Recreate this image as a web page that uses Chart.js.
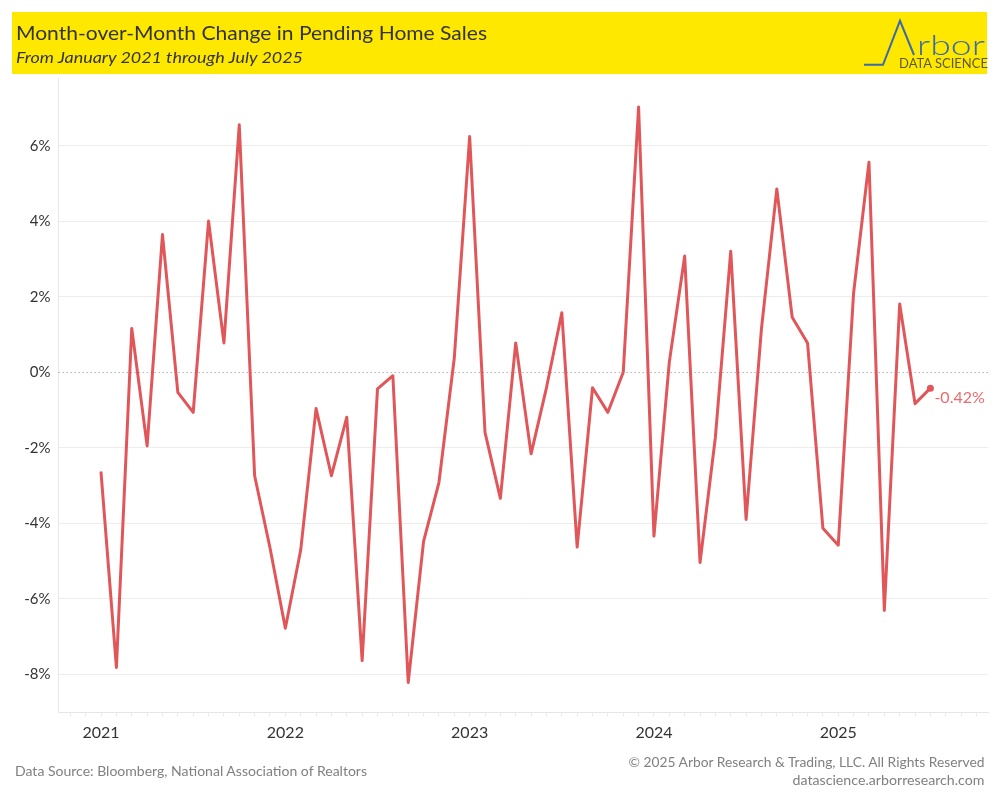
<!DOCTYPE html>
<html>
<head>
<meta charset="utf-8">
<script src="https://cdn.jsdelivr.net/npm/chart.js@4.4.1/dist/chart.umd.min.js"></script>
<style>
  html, body { margin: 0; padding: 0; background: #fff; }
  #wrap { position: relative; width: 1000px; height: 800px; overflow: hidden; }
  #chart { position: absolute; left: 0; top: 0; width: 1000px; height: 800px; }
  #overlay { position: absolute; left: 0; top: 0; pointer-events: none; }
</style>
</head>
<body>
<div id="wrap">
  <canvas id="chart" width="1000" height="800"></canvas>
  <svg id="overlay" width="1000" height="800" xmlns="http://www.w3.org/2000/svg">
    <rect x="12" y="12" width="975" height="62" fill="#FFE800"/>
    <text x="16" y="39.5" font-family="Lato" font-size="19" fill="#333" textLength="471" lengthAdjust="spacingAndGlyphs">Month-over-Month Change in Pending Home Sales</text>
    <text x="16" y="63" font-family="Lato" font-style="italic" font-size="15.5" fill="#333" textLength="287" lengthAdjust="spacingAndGlyphs">From January 2021 through July 2025</text>
    <polyline points="864,64.8 883,64.8 900,20.8 914,55" fill="none" stroke="#3D6AA8" stroke-width="2"/>
    <text x="917" y="55" font-family="Lato" font-weight="300" font-size="27" fill="#3D6AA8" textLength="68" lengthAdjust="spacingAndGlyphs">rbor</text>
    <text x="899" y="68" font-family="Lato" font-size="12.5" fill="#5E5A30" textLength="89" lengthAdjust="spacingAndGlyphs">DATA SCIENCE</text>
    <text x="15" y="775.5" font-family="Lato" font-size="14" fill="#808080" textLength="352" lengthAdjust="spacingAndGlyphs">Data Source: Bloomberg, National Association of Realtors</text>
    <text x="984.5" y="766.5" text-anchor="end" font-family="Lato" font-size="14" fill="#808080" textLength="356" lengthAdjust="spacingAndGlyphs">© 2025 Arbor Research &amp; Trading, LLC. All Rights Reserved</text>
    <text x="984.5" y="784.5" text-anchor="end" font-family="Lato" font-size="14" fill="#808080" textLength="192" lengthAdjust="spacingAndGlyphs">datascience.arborresearch.com</text>
  </svg>
</div>
<script>
// ---- Data ----
const yearLabels = ['2021', '2022', '2023', '2024', '2025'];
const months = [
  '2021-01','2021-02','2021-03','2021-04','2021-05','2021-06','2021-07','2021-08','2021-09','2021-10','2021-11','2021-12',
  '2022-01','2022-02','2022-03','2022-04','2022-05','2022-06','2022-07','2022-08','2022-09','2022-10','2022-11','2022-12',
  '2023-01','2023-02','2023-03','2023-04','2023-05','2023-06','2023-07','2023-08','2023-09','2023-10','2023-11','2023-12',
  '2024-01','2024-02','2024-03','2024-04','2024-05','2024-06','2024-07','2024-08','2024-09','2024-10','2024-11','2024-12',
  '2025-01','2025-02','2025-03','2025-04','2025-05','2025-06','2025-07'
];
const momChange = [
  -2.66, -7.82, 1.16, -1.95, 3.65, -0.53, -1.06, 4.01, 0.78, 6.56, -2.74, -4.65,
  -6.78, -4.71, -0.96, -2.74, -1.19, -7.64, -0.44, -0.09, -8.22, -4.48, -2.92, 0.38,
  6.25, -1.59, -3.34, 0.78, -2.16, -0.41, 1.58, -4.63, -0.41, -1.06, 0.00, 7.03,
  -4.34, 0.27, 3.08, -5.04, -1.72, 3.21, -3.90, 1.16, 4.86, 1.46, 0.78, -4.13,
  -4.58, 2.11, 5.57, -6.31, 1.81, -0.83, -0.42
];
const yTickValues = [-8, -6, -4, -2, 0, 2, 4, 6];

// ---- Chart ----
const lineColor = '#E15759';
const points = months.map((m, i) => ({ x: i, y: momChange[i] }));
const lastIdx = momChange.length - 1;

const zeroLine = {
  id: 'zeroLine',
  beforeDatasetsDraw(chart) {
    const { ctx, chartArea, scales } = chart;
    const y = Math.round(scales.y.getPixelForValue(0)) + 0.5;
    ctx.save();
    ctx.strokeStyle = '#B5B5B5';
    ctx.lineWidth = 1;
    ctx.setLineDash([1.5, 2.5]);
    ctx.beginPath();
    ctx.moveTo(chartArea.left, y);
    ctx.lineTo(chartArea.right, y);
    ctx.stroke();
    ctx.restore();
  }
};

const lastLabel = {
  id: 'lastLabel',
  afterDatasetsDraw(chart) {
    const meta = chart.getDatasetMeta(0);
    const pt = meta.data[lastIdx];
    const { ctx } = chart;
    ctx.save();
    ctx.font = '16px Lato';
    ctx.fillStyle = '#EC6A6E';
    ctx.textBaseline = 'middle';
    ctx.textAlign = 'left';
    ctx.fillText(momChange[lastIdx].toFixed(2) + '%', pt.x + 4, pt.y + 10);
    ctx.restore();
  }
};

Chart.defaults.font.family = 'Lato';

new Chart(document.getElementById('chart'), {
  type: 'line',
  data: {
    datasets: [{
      data: points,
      borderColor: lineColor,
      backgroundColor: lineColor,
      borderWidth: 3,
      tension: 0,
      pointRadius: (ctx) => ctx.dataIndex === lastIdx ? 3.5 : 0,
      pointHoverRadius: 0,
      pointBorderWidth: 0,
      borderJoinStyle: 'round',
      borderCapStyle: 'round',
      fill: false
    }]
  },
  options: {
    responsive: false,
    animation: false,
    devicePixelRatio: 1,
    layout: { padding: { left: 0, top: 78, right: 12, bottom: 47.3 } },
    plugins: { legend: { display: false }, tooltip: { enabled: false } },
    scales: {
      x: {
        type: 'linear',
        min: -2.77,
        max: 57.75,
        afterBuildTicks: (scale) => {
          const t = [];
          for (let v = -2; v <= 57; v++) t.push({ value: v });
          scale.ticks = t;
        },
        afterFit: (scale) => { scale.height = 40; },
        ticks: {
          autoSkip: false,
          maxRotation: 0,
          font: { size: 16 },
          color: '#333',
          padding: 7,
          callback: (v) => (v >= 0 && v % 12 === 0) ? yearLabels[v / 12] : ''
        },
        grid: {
          drawOnChartArea: false,
          drawTicks: true,
          tickLength: 4,
          tickColor: '#EBEBEB'
        },
        border: { color: '#E6E6E6' }
      },
      y: {
        min: -9.02,
        max: 7.80,
        afterBuildTicks: (scale) => { scale.ticks = yTickValues.map(v => ({ value: v })); },
        afterFit: (scale) => { scale.width = 58.5; },
        ticks: {
          font: { size: 15 },
          color: '#333',
          padding: 8,
          callback: (v) => v + '%'
        },
        grid: {
          drawTicks: false,
          color: (ctx) => (ctx.tick && ctx.tick.value === 0) ? 'rgba(0,0,0,0)' : '#EDEDED'
        },
        border: { color: '#E6E6E6' }
      }
    }
  },
  plugins: [zeroLine, lastLabel]
});
</script>
</body>
</html>
